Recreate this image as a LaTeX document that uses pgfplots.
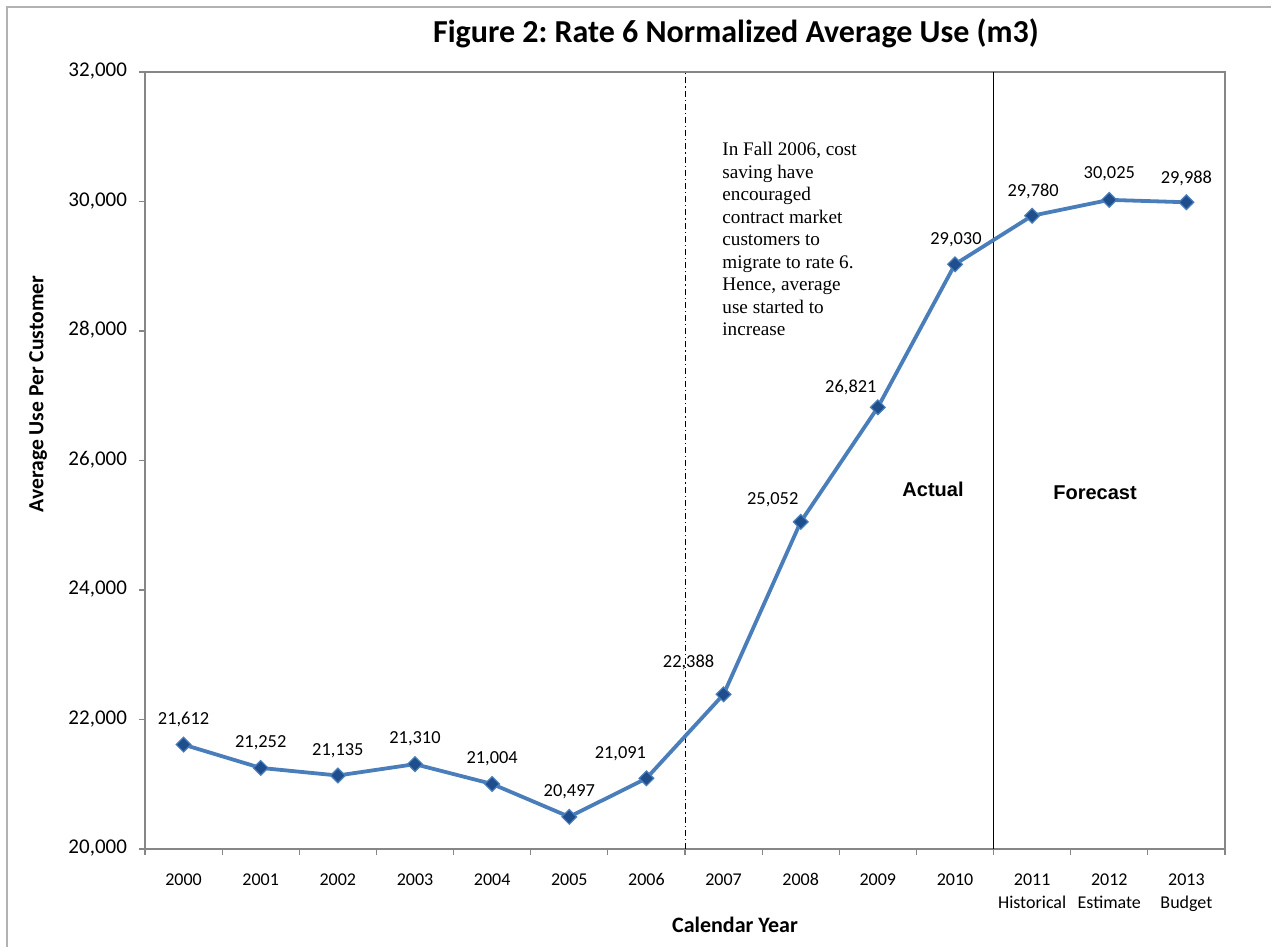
\documentclass[border=0pt]{standalone}
\usepackage{pgfplots}
\usepackage{pgfplotstable}
\pgfplotsset{compat=1.18}
\usepackage{fontspec}
\setmainfont{Carlito}
\newfontfamily\serifann{Liberation Serif}
\newfontfamily\arialf{Liberation Sans}
\definecolor{linec}{HTML}{4A7EBB}
\definecolor{markc}{HTML}{1F4E8C}
\definecolor{axc}{HTML}{868686}
\frenchspacing
\pgfplotstableread{
x y dx dy
0 21612 0 12.5
1 21252 0 12.5
2 21135 0 12.5
3 21310 0 12.5
4 21004 0 12.5
5 20497 0 12.5
6 21091 -13 12.5
7 22388 -17.5 16
8 25052 -14 11
9 26821 -13.5 10
10 29030 0.5 12.5
11 29780 0.5 12
12 30025 0 13
13 29988 0 12
}\datatable
\begin{document}
\frenchspacing
\begin{tikzpicture}
\useasboundingbox (0pt,0pt) rectangle (635.5pt,473.5pt);
\draw[gray!60, line width=0.6pt] (3.5pt,0pt) -- (3.5pt,470pt) -- (635.5pt,470pt);
\begin{axis}[
  at={(72.5pt,49pt)}, anchor=south west,
  scale only axis, width=540pt, height=388.5pt,
  xmin=-0.5, xmax=13.5, ymin=20000, ymax=32000,
  ytick={20000,22000,24000,26000,28000,30000,32000},
  xtick={-0.5,0.5,1.5,2.5,3.5,4.5,5.5,6.5,7.5,8.5,9.5,10.5,11.5,12.5,13.5},
  xticklabels={},
  extra x ticks={0,1,2,3,4,5,6,7,8,9,10,11,12,13},
  extra x tick labels={2000,2001,2002,2003,2004,2005,2006,2007,2008,2009,2010,{2011\\Historical},{2012\\Estimate},{2013\\Budget}},
  extra x tick style={major tick length=0pt, xticklabel style={align=center, anchor=north, yshift=-6.5pt, font=\fontsize{9}{11.5}\selectfont}},
  typeset ticklabels with strut,
  xtick pos=bottom, ytick pos=left,
  tick align=outside,
  major tick length=3pt,
  tick style={draw=axc, line width=0.6pt},
  axis line style={draw=axc, line width=0.8pt},
  yticklabel style={font=\fontsize{10.5}{12}\selectfont, xshift=-2.5pt},
  scaled y ticks=false,
  /pgf/number format/.cd, 1000 sep={,}, assume math mode=true,
]
\draw[black, line width=0.5pt, dash pattern=on 3pt off 1.5pt on 0.6pt off 1.5pt] (axis cs:6.5,20000) -- (axis cs:6.5,32000);
\draw[black, line width=0.6pt] (axis cs:10.5,20000) -- (axis cs:10.5,32000);
\addplot[linec, line width=1.9pt, mark=square*, mark size=2.6pt,
  mark options={rotate=45, fill=markc, draw=linec, line width=0.6pt, solid},
  point meta=y,
  nodes near coords={\pgfmathprintnumber[fixed,precision=0,1000 sep={,},assume math mode=true]{\pgfplotspointmeta}},
  visualization depends on={\thisrow{dx}\as\dx},
  visualization depends on={\thisrow{dy}\as\dy},
  nodes near coords style={anchor=center, xshift=\dx pt, yshift=\dy pt, font=\fontsize{9.2}{10}\selectfont, text=black, inner sep=0pt},
] table[x=x,y=y] {\datatable};
\end{axis}
\node[font=\bfseries\fontsize{16}{18}\selectfont] at (368pt,457pt) {Figure 2: Rate 6 Normalized Average Use (m3)};
\node[font=\bfseries\fontsize{10.8}{12}\selectfont, rotate=90] at (19pt,276.5pt) {Average Use Per Customer};
\node[font=\bfseries\fontsize{11}{13}\selectfont] at (367.5pt,11pt) {Calendar Year};
\node[font=\arialf\bfseries\fontsize{10}{12}\selectfont] at (466.5pt,229pt) {Actual};
\node[font=\arialf\bfseries\fontsize{10}{12}\selectfont] at (547.5pt,227pt) {Forecast};
\node[anchor=north west, align=left, inner sep=0pt, font=\serifann\fontsize{9.6}{11.25}\selectfont] at (361pt,402.5pt) {In Fall 2006, cost\\saving have\\encouraged\\contract market\\customers to\\migrate to rate 6.\\Hence, average\\use started to\\increase};
\end{tikzpicture}
\end{document}
